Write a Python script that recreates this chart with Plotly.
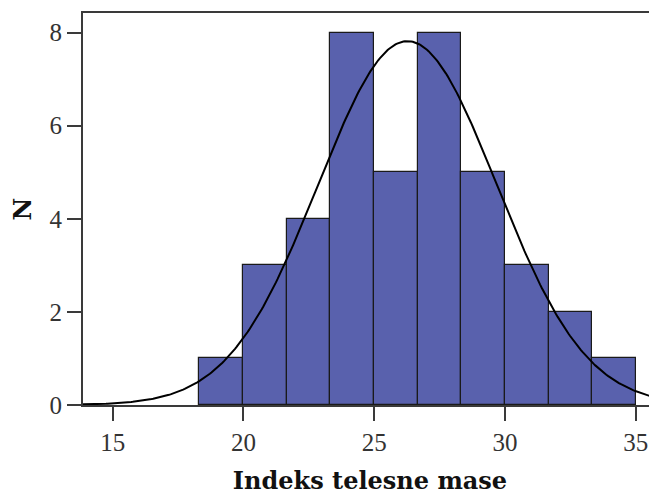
import numpy as np
import plotly.graph_objects as go

# Histogram data
bin_centers = [19.14, 20.81, 22.48, 24.15, 25.82, 27.49, 29.16, 30.83, 32.50, 34.17]
counts = [1, 3, 4, 8, 5, 8, 5, 3, 2, 1]
bin_width = 1.67

# Fitted normal curve parameters
mean_bmi = 26.27
sd_bmi = 3.41
n_total = sum(counts)

x_ticks = [15, 20, 25, 30, 35]
y_ticks = [0, 2, 4, 6, 8]

xs = np.linspace(13.0, 37.0, 400)
ys = n_total * bin_width / (sd_bmi * np.sqrt(2 * np.pi)) * np.exp(-0.5 * ((xs - mean_bmi) / sd_bmi) ** 2)

fig = go.Figure()
fig.add_trace(go.Bar(
    x=bin_centers, y=counts, width=bin_width,
    marker=dict(color="#5961ad", line=dict(color="#1a1a1a", width=1.2)),
    hoverinfo="x+y", showlegend=False,
))
fig.add_trace(go.Scatter(
    x=xs, y=ys, mode="lines",
    line=dict(color="black", width=2), showlegend=False, hoverinfo="skip",
))

axis_line = "#3a3a3a"
fig.update_layout(
    width=649, height=487,
    margin=dict(l=75, r=0, t=5, b=90, autoexpand=False),
    paper_bgcolor="white", plot_bgcolor="white",
    bargap=0,
    font=dict(family="Liberation Serif", color="#333333"),
    xaxis=dict(
        range=[13.864, 35.81], tickvals=x_ticks, ticktext=[str(v) for v in x_ticks],
        ticks="outside", ticklen=14, tickwidth=2, tickcolor=axis_line,
        showline=True, linecolor=axis_line, linewidth=2, mirror=True,
        showgrid=False, zeroline=False,
        tickfont=dict(family="Liberation Serif", size=25, color="#333333"),
        title=dict(text="<b>Indeks telesne mase</b>",
                   font=dict(family="DejaVu Serif", size=24, color="#111111"),
                   standoff=23),
    ),
    yaxis=dict(
        range=[0, 8.42], tickvals=y_ticks, ticktext=[str(v) for v in y_ticks],
        ticks="outside", ticklen=14, tickwidth=2, tickcolor=axis_line,
        showline=True, linecolor=axis_line, linewidth=2, mirror=False,
        showgrid=False, zeroline=False,
        tickfont=dict(family="Liberation Serif", size=25, color="#333333"),
        title=dict(text="<b>N</b>",
                   font=dict(family="DejaVu Serif", size=25, color="#111111"),
                   standoff=16),
    ),
)

fig.write_html("out.html")
